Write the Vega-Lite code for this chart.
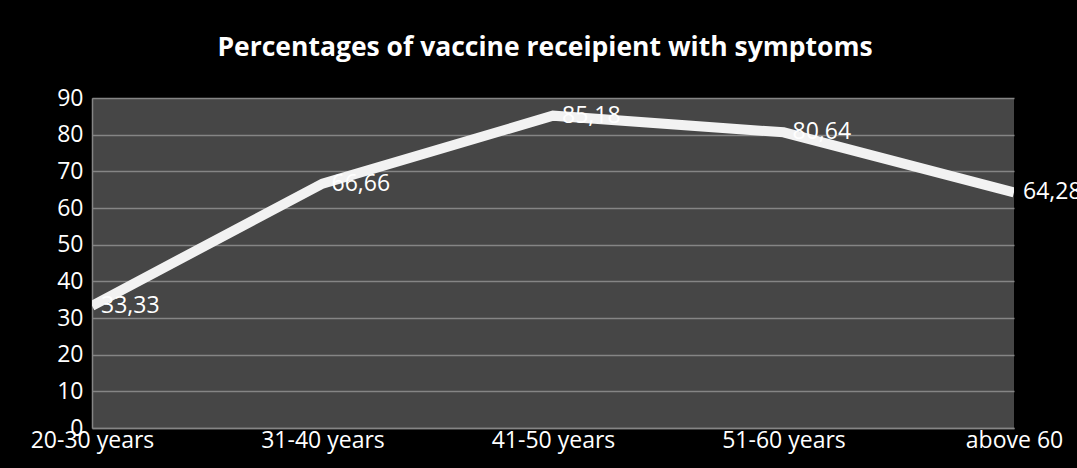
{
  "$schema": "https://vega.github.io/schema/vega-lite/v6.json",
  "width": 922,
  "height": 330,
  "autosize": {"type": "none"},
  "padding": {"left": 92, "top": 98, "right": 63, "bottom": 40},
  "background": "#000000",
  "title": {
    "text": "Percentages of vaccine receipient with symptoms",
    "font": "Open Sans",
    "fontSize": 26.5,
    "fontWeight": "bold",
    "color": "#ffffff",
    "anchor": "middle",
    "baseline": "alphabetic",
    "dx": -8,
    "offset": 5
  },
  "data": {
    "values": [
      {"age": "20-30 years", "pct": 33.33},
      {"age": "31-40 years", "pct": 66.66},
      {"age": "41-50 years", "pct": 85.18},
      {"age": "51-60 years", "pct": 80.64},
      {"age": "above 60", "pct": 64.28}
    ]
  },
  "encoding": {
    "x": {
      "field": "age",
      "type": "nominal",
      "sort": null,
      "scale": {"padding": 0},
      "axis": {
        "title": null,
        "labelAngle": 0,
        "ticks": false,
        "labelPadding": 1,
        "domainColor": "#858585",
        "domainWidth": 1.5,
        "labelFont": "Open Sans",
        "labelFontSize": 23,
        "labelColor": "#ffffff",
        "grid": false
      }
    },
    "y": {
      "field": "pct",
      "type": "quantitative",
      "scale": {"domain": [0, 90], "nice": false},
      "axis": {
        "title": null,
        "values": [0, 10, 20, 30, 40, 50, 60, 70, 80, 90],
        "ticks": false,
        "labelPadding": 9,
        "domainColor": "#858585",
        "domainWidth": 1.5,
        "gridColor": "#858585",
        "gridWidth": 1.5,
        "labelFont": "Open Sans",
        "labelFontSize": 23,
        "labelColor": "#ffffff"
      }
    }
  },
  "layer": [
    {
      "mark": {"type": "line", "color": "#f2f2f2", "strokeWidth": 10, "strokeCap": "butt", "strokeJoin": "miter", "clip": true}
    },
    {
      "mark": {"type": "text", "align": "left", "baseline": "middle", "dx": 9, "font": "Open Sans", "fontSize": 23, "color": "#ffffff"},
      "encoding": {
        "text": {"field": "pct", "type": "quantitative", "format": ".2f"}
      }
    }
  ],
  "config": {
    "view": {"fill": "#464646", "stroke": null},
    "locale": {
      "number": {"decimal": ",", "thousands": ".", "grouping": [3], "currency": ["", " €"]}
    }
  }
}
